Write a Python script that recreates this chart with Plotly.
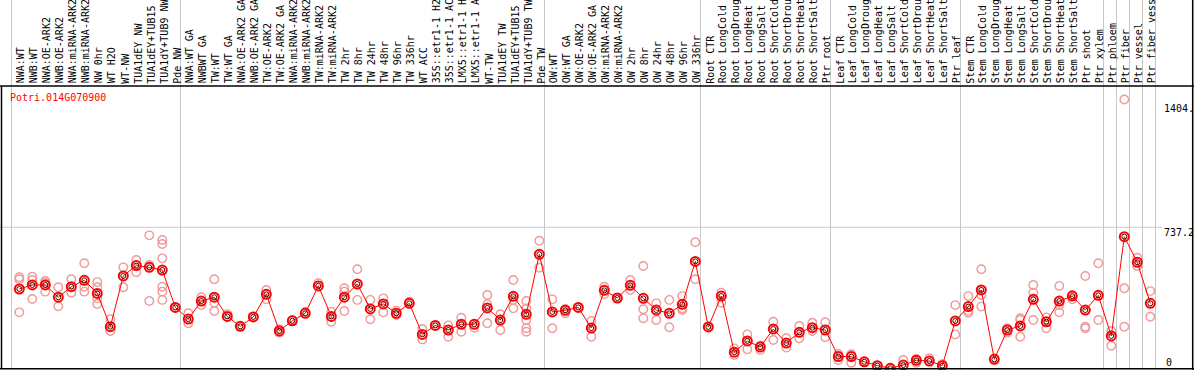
import plotly.graph_objects as go

gene_id = "Potri.014G070900"

samples = [
    "NWA:WT", "NWB:WT", "NWA:OE-ARK2", "NWB:OE-ARK2", "NWA:miRNA-ARK2", "NWB:miRNA-ARK2",
    "NW 0hr", "WT H2O", "WT-NW", "TUA1dEY NW", "TUA1dEY+TUB15 NW", "TUA1dY+TUB9 NW", "Pde NW",
    "NWA:WT GA", "NWBWT GA", "TW:WT", "TW:WT GA", "NWA:OE-ARK2 GA", "NWB:OE-ARK2 GA",
    "TW:OE-ARK2", "TW:OE-ARK2 GA", "NWA:miRNA-ARK2 GA", "NWB:miRNA-ARK2 GA", "TW:miRNA-ARK2",
    "TW:miRNA-ARK2 GA", "TW 2hr", "TW 8hr", "TW 24hr", "TW 48hr", "TW 96hr", "TW 336hr",
    "WT ACC", "35S::etr1-1 H2O", "35S::etr1-1 ACC", "LMX5::etr1-1 H2O", "LMX5::etr1-1 ACC",
    "WT-TW", "TUA1dEY TW", "TUA1dEY+TUB15 TW", "TUA1dY+TUB9 TW", "Pde TW",
    "OW:WT", "OW:WT GA", "OW:OE-ARK2", "OW:OE-ARK2 GA", "OW:miRNA-ARK2", "OW:miRNA-ARK2 GA",
    "OW 2hr", "OW 8hr", "OW 24hr", "OW 48hr", "OW 96hr", "OW 336hr",
    "Root CTR", "Root LongCold", "Root LongDrought", "Root LongHeat", "Root LongSalt",
    "Root ShortCold", "Root ShortDrought", "Root ShortHeat", "Root ShortSalt", "Ptr root",
    "Leaf CTR", "Leaf LongCold", "Leaf LongDrought", "Leaf LongHeat", "Leaf LongSalt",
    "Leaf ShortCold", "Leaf ShortDrought", "Leaf ShortHeat", "Leaf ShortSalt", "Ptr leaf",
    "Stem CTR", "Stem LongCold", "Stem LongDrought", "Stem LongHeat", "Stem LongSalt",
    "Stem ShortCold", "Stem ShortDrought", "Stem ShortHeat", "Stem ShortSalt", "Ptr shoot", "Ptr xylem",
    "Ptr phloem", "Ptr fiber", "Ptr vessel", "Ptr fiber vessel",
]

group_sizes = [13, 28, 12, 10, 10, 11, 1, 1, 1, 1]

means = [
    415, 436, 436, 372, 427, 460, 392, 218, 483, 537, 528, 514, 319,
    258, 352, 372, 272, 220, 269, 387, 196, 249, 288, 431, 272, 372, 441, 311, 337, 288,
    340, 178, 225, 201, 231, 231, 316, 253, 377, 283, 596,
    295, 304, 319, 211, 408, 368, 434, 366, 305, 288, 335, 559,
    217, 378, 85, 144, 112, 206, 133, 189, 213, 201,
    62, 62, 35, 15, 1, 18, 43, 39, 15, 248,
    323, 410, 48, 201, 222, 361, 244, 352, 378, 305, 382,
    170, 688, 554, 340,
]

replicates = [
    [476, 466, 293], [479, 462, 363], [457, 446, 401], [424, 325], [466, 396],
    [549, 427, 401], [451, 424, 366, 337], [257, 196], [528, 424], [566, 502],
    [695, 540, 352], [671, 650, 575, 427, 401, 358], [319],
    [288, 236], [372, 331], [466, 343, 300], [284], [222], [270], [410, 362], [205, 187],
    [253], [296], [445], [296, 244], [419, 401, 300], [518, 358], [358, 257], [366, 293],
    [302, 279], [349], [206, 152], [225], [225, 166], [265, 192], [213], [384, 335, 236],
    [283, 201], [462, 358, 314], [352, 314, 253, 210, 192], [667, 526],
    [361, 210], [311, 288], [319], [248, 166], [427, 389], [368], [462, 410],
    [535, 309, 262], [340, 253], [358, 215], [378, 314, 305], [659, 466],
    [218], [396, 343], [105, 70], [178, 100], [120, 97], [244, 149], [158, 109],
    [222, 158], [239, 196], [241, 163],
    [76, 44], [74, 30], [35], [15], [1], [44], [50, 30], [53], [23], [331, 178],
    [378, 302, 291], [518, 384, 323], [53], [210, 187], [262, 253, 166], [436, 396, 253],
    [267, 210], [431, 331, 293], [384, 361], [483, 218, 210], [549, 253],
    [196, 119], [1404, 419, 218], [578, 535], [404, 270],
]

scale_labels = ["1404.", "737.2", "0"]
grid_value = 737.2

# ---------------- figure geometry ----------------
W, H = 1194, 370
X0_PX, DX_PX = 19.3, 13.0        # pixel of first sample, spacing
Y0_PX, KY = 368.5, 0.1916        # pixel of value 0, px per unit

x_range = [-X0_PX / DX_PX, (W - X0_PX) / DX_PX]
y_range = [-(H - Y0_PX) / KY, Y0_PX / KY]

def px_x(px):
    return px / W

def px_y(py):
    return 1 - py / H

xs = list(range(len(samples)))
rx, ry = [], []
for i, reps in enumerate(replicates):
    for v in reps:
        rx.append(i)
        ry.append(v)

fig = go.Figure()

fig.add_trace(go.Scatter(
    x=rx, y=ry, mode="markers",
    marker=dict(symbol="circle-open", size=8.5, color="#f09a9a", line=dict(width=1.4, color="#f09a9a")),
    hoverinfo="skip", showlegend=False,
))
fig.add_trace(go.Scatter(
    x=xs, y=means, mode="lines",
    line=dict(color="#ff0000", width=1),
    hoverinfo="skip", showlegend=False,
))
fig.add_trace(go.Scatter(
    x=xs, y=means, mode="markers",
    marker=dict(symbol="circle-open", size=9, color="#ff0000", line=dict(width=2, color="#ff0000")),
    text=samples, hoverinfo="text+y", showlegend=False,
))
fig.add_trace(go.Scatter(
    x=xs, y=means, mode="markers",
    marker=dict(symbol="circle-open", size=5, color="#500000", line=dict(width=1, color="#500000")),
    hoverinfo="skip", showlegend=False,
))

shapes = []
pos = 0
bounds = [-0.6]
for g in group_sizes:
    pos += g
    bounds.append(pos - 0.6)
for b in bounds:
    shapes.append(dict(type="line", xref="x", yref="paper", x0=b, x1=b, y0=0, y1=1,
                       line=dict(color="#c8c8c8", width=1), layer="below"))
shapes.append(dict(type="line", xref="paper", yref="y", x0=0, x1=px_x(1162),
                   y0=grid_value, y1=grid_value, line=dict(color="#c8c8c8", width=1), layer="below"))
shapes.append(dict(type="line", xref="paper", yref="paper", x0=0, x1=1, y0=px_y(86), y1=px_y(86),
                   line=dict(color="#000000", width=1.5)))
shapes.append(dict(type="line", xref="paper", yref="paper", x0=0, x1=1, y0=px_y(368.7), y1=px_y(368.7),
                   line=dict(color="#000000", width=1.5)))
shapes.append(dict(type="line", xref="paper", yref="paper", x0=px_x(1.5), x1=px_x(1.5), y0=px_y(86), y1=px_y(369),
                   line=dict(color="#000000", width=1.5)))
shapes.append(dict(type="line", xref="paper", yref="paper", x0=px_x(1192.7), x1=px_x(1192.7), y0=0, y1=1,
                   line=dict(color="#000000", width=1.5)))

annotations = []
mono = "DejaVu Sans Mono"
for i, s in enumerate(samples):
    annotations.append(dict(
        x=i, y=px_y(84.5), xref="x", yref="paper", text=s, showarrow=False,
        textangle=-90, xanchor="center", yanchor="bottom", borderpad=0, xshift=1.5,
        font=dict(family=mono, size=10, color="#000000"),
    ))
annotations.append(dict(x=px_x(9), y=px_y(97), xref="paper", yref="paper", text=gene_id,
                        showarrow=False, xanchor="left", yanchor="middle", borderpad=0,
                        font=dict(family=mono, size=10, color="#ff0000")))
label_px = [(1163, 108), (1163, 232), (1165, 362)]
for t, (lx, ly) in zip(scale_labels, label_px):
    annotations.append(dict(x=px_x(lx), y=px_y(ly), xref="paper", yref="paper", text=t,
                            showarrow=False, xanchor="left", yanchor="middle", borderpad=0,
                            font=dict(family=mono, size=10, color="#000000")))

fig.update_layout(
    width=W, height=H, autosize=False,
    margin=dict(l=0, r=0, t=0, b=0, pad=0),
    paper_bgcolor="#ffffff", plot_bgcolor="#ffffff",
    xaxis=dict(range=x_range, visible=False, fixedrange=True),
    yaxis=dict(range=y_range, visible=False, fixedrange=True),
    shapes=shapes, annotations=annotations, showlegend=False,
)

fig.write_html(
    "out.html",
    config={"displayModeBar": False},
    post_script="document.body.style.margin='0';document.body.style.overflow='hidden';",
)
